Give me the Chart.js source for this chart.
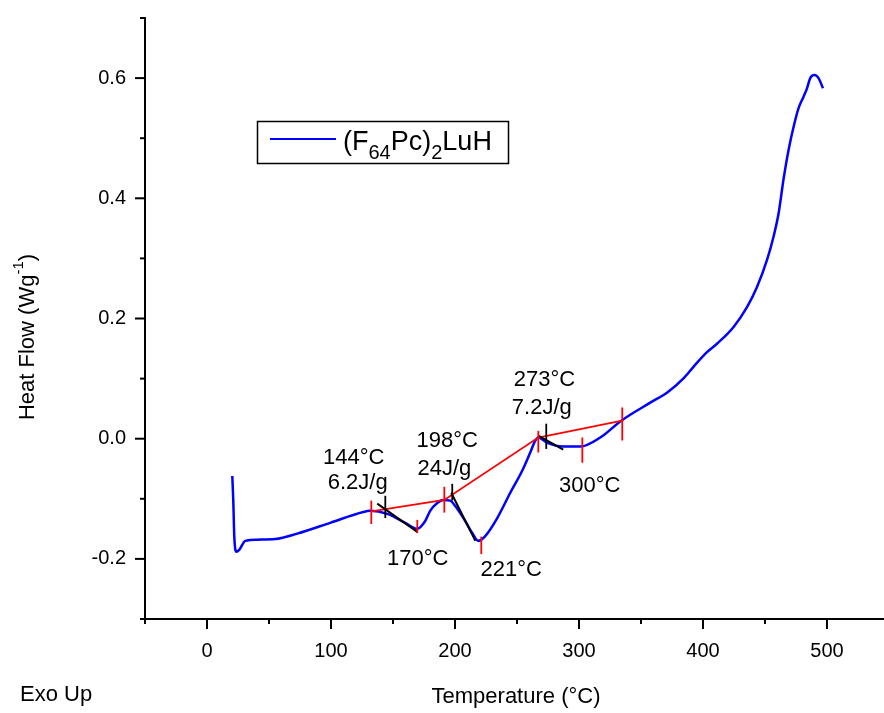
<!DOCTYPE html>
<html>
<head>
<meta charset="utf-8">
<script src="https://cdn.jsdelivr.net/npm/chart.js@4/dist/chart.umd.min.js"></script>
<style>
  body { margin: 0; background: #fff; }
  #wrap { width: 884px; height: 713px; position: relative; }
</style>
</head>
<body>
<div id="wrap"><canvas id="dscChart"></canvas></div>
<script>
// DSC trace, temperature in degC, heat flow in W/g
const temps = [20.4, 21.2, 22.0, 23.6, 26.0, 30.9, 40.6, 55.1, 72.8, 99.4, 126, 131.7, 145.4, 159.9, 169.6,
    176, 180, 185.7, 190.6, 196.2, 200.2, 208.3, 213.9, 218.8, 224.4, 234.1, 244.6, 254.3, 260.7, 264.8,
    267.2, 274.4, 287.3, 301, 317.2, 334.1, 357.5, 371.2, 384.1, 392.5, 403.2, 411.3, 424.7, 435.5,
    443.5, 451.6, 456.9, 461, 465, 469, 473.1, 477.1, 481.1, 483.9, 486.5, 489.8, 493.2, 496.8]
const heatFlow = [-0.062, -0.103, -0.162, -0.188, -0.185, -0.170, -0.168, -0.167, -0.158, -0.140, -0.122, -0.120, -0.125, -0.140, -0.150,
    -0.137, -0.120, -0.107, -0.102, -0.103, -0.112, -0.137, -0.157, -0.170, -0.162, -0.132, -0.090, -0.053, -0.023, -0.003,
    0.002, -0.007, -0.013, -0.013, 0.002, 0.030, 0.060, 0.077, 0.100, 0.120, 0.144, 0.158, 0.186, 0.219,
    0.252, 0.297, 0.336, 0.375, 0.432, 0.480, 0.519, 0.550, 0.569, 0.583, 0.600, 0.605, 0.600, 0.583]

// integration baseline (red)
const baseT = [132.5, 191.4, 267.2, 334.9]
const baseY = [-0.121, -0.102, 0.002, 0.030]

// onset tangents (black), each [t1, y1, t2, y2]
const tangents = [
    [137.3, -0.108, 169.6, -0.155],
    [197.0, -0.090, 216.4, -0.170],
    [267.2, 0.005, 287.3, -0.018]
]

// short vertical marks [t, yLow, yHigh]
const redMarks = [
    [132.5, -0.142, -0.103], [169.6, -0.157, -0.135], [191.4, -0.123, -0.080], [221.2, -0.192, -0.163],
    [267.2, -0.023, 0.013], [302.7, -0.040, 0.002], [334.9, -0.003, 0.052]
]
const blackMarks = [[143.8, -0.132, -0.095], [197.8, -0.103, -0.075], [273.6, -0.017, 0.025]]

// peak labels [text, t, y]
const peakLabels = [
    ['144°C', 118.4, -0.032], ['6.2J/g', 121.5, -0.073], ['170°C', 170, -0.200],
    ['198°C', 193.8, -0.003], ['24J/g', 191.5, -0.050], ['221°C', 245.4, -0.218],
    ['273°C', 272.2, 0.097], ['7.2J/g', 270, 0.052], ['300°C', 308.7, -0.078]
]

const xTicks = [-50, 0, 50, 100, 150, 200, 250, 300, 350, 400, 450, 500]
const yTicks = [-0.3, -0.2, -0.1, 0.0, 0.1, 0.2, 0.3, 0.4, 0.5, 0.6, 0.7]

const FONT = "'Liberation Sans', Arial, sans-serif"

function toPoints(xs, ys) {
    let pts = []
    for (let i = 0; i < xs.length; i++) pts.push({ x: xs[i], y: ys[i] })
    return pts
}

// parts: [text, 'n' | 'sub' | 'sup'], sub/sup drawn smaller and shifted
function drawSubText(ctx, parts, x, y, size, small, shift) {
    let cx = x
    parts.forEach(([txt, kind]) => {
        let s = kind === 'n' ? size : small
        let dy = kind === 'sub' ? shift : kind === 'sup' ? -shift : 0
        ctx.font = `${s}px ${FONT}`
        ctx.fillText(txt, cx, y + dy)
        cx += ctx.measureText(txt).width
    })
    return cx - x
}

function measureSubText(ctx, parts, size, small) {
    let w = 0
    parts.forEach(([txt, kind]) => {
        ctx.font = `${kind === 'n' ? size : small}px ${FONT}`
        w += ctx.measureText(txt).width
    })
    return w
}

const decorations = {
    id: 'decorations',
    afterDatasetsDraw(chart) {
        const { ctx, chartArea, scales: { x, y } } = chart
        ctx.save()
        ctx.lineCap = 'butt'

        // vertical marks
        ctx.lineWidth = 1.8
        ctx.strokeStyle = '#ff0000'
        redMarks.forEach(m => {
            ctx.beginPath()
            ctx.moveTo(x.getPixelForValue(m[0]), y.getPixelForValue(m[1]))
            ctx.lineTo(x.getPixelForValue(m[0]), y.getPixelForValue(m[2]))
            ctx.stroke()
        })
        ctx.strokeStyle = '#000'
        blackMarks.forEach(m => {
            ctx.beginPath()
            ctx.moveTo(x.getPixelForValue(m[0]), y.getPixelForValue(m[1]))
            ctx.lineTo(x.getPixelForValue(m[0]), y.getPixelForValue(m[2]))
            ctx.stroke()
        })

        // peak labels
        ctx.fillStyle = '#000'
        ctx.font = `22px ${FONT}`
        ctx.textAlign = 'center'
        ctx.textBaseline = 'middle'
        peakLabels.forEach(l => {
            ctx.fillText(l[0], x.getPixelForValue(l[1]), y.getPixelForValue(l[2]))
        })

        // axis tick marks, major and minor
        ctx.lineWidth = 2
        ctx.strokeStyle = '#000'
        xTicks.forEach(v => {
            let px = x.getPixelForValue(v)
            let len = v % 100 === 0 ? 10 : 5
            ctx.beginPath()
            ctx.moveTo(px, chartArea.bottom)
            ctx.lineTo(px, chartArea.bottom + len)
            ctx.stroke()
        })
        yTicks.forEach(v => {
            let py = y.getPixelForValue(v)
            let len = Math.round(v * 10) % 2 === 0 ? 10 : 5
            ctx.beginPath()
            ctx.moveTo(chartArea.left, py)
            ctx.lineTo(chartArea.left - len, py)
            ctx.stroke()
        })

        // legend box
        let lx = chartArea.left + 112, ly = chartArea.top + 103
        ctx.lineWidth = 1.5
        ctx.strokeRect(lx + 0.5, ly + 0.5, 251, 42)
        ctx.strokeStyle = '#0000ff'
        ctx.lineWidth = 2
        ctx.beginPath()
        ctx.moveTo(lx + 13, ly + 18)
        ctx.lineTo(lx + 79, ly + 18)
        ctx.stroke()
        ctx.textAlign = 'left'
        ctx.textBaseline = 'alphabetic'
        drawSubText(ctx, [['(F', 'n'], ['64', 'sub'], ['Pc)', 'n'], ['2', 'sub'], ['LuH', 'n']], lx + 86, ly + 29, 27, 20, 9)

        // axis titles
        ctx.textBaseline = 'middle'
        ctx.textAlign = 'center'
        ctx.font = `22px ${FONT}`
        ctx.fillText('Temperature (°C)', 516, 697)
        ctx.textAlign = 'left'
        ctx.fillText('Exo Up', 20, 695)

        const yTitle = [['Heat Flow (Wg', 'n'], ['-1', 'sup'], [')', 'n']]
        ctx.translate(28, 337)
        ctx.rotate(-Math.PI / 2)
        let w = measureSubText(ctx, yTitle, 22, 15)
        drawSubText(ctx, yTitle, -w / 2, 0, 22, 15, 9)
        ctx.restore()
    }
}

new Chart(document.getElementById('dscChart'), {
    type: 'line',
    data: {
        datasets: [
            {
                label: '(F64Pc)2LuH',
                data: toPoints(temps, heatFlow),
                borderColor: '#0000ff',
                borderWidth: 2.5,
                pointRadius: 0,
                cubicInterpolationMode: 'monotone',
                order: 2
            },
            {
                data: toPoints(baseT, baseY),
                borderColor: '#ff0000',
                borderWidth: 1.8,
                pointRadius: 0,
                tension: 0,
                order: 1
            },
            ...tangents.map(t => ({
                data: [{ x: t[0], y: t[1] }, { x: t[2], y: t[3] }],
                borderColor: '#000000',
                borderWidth: 2,
                pointRadius: 0,
                tension: 0,
                order: 0
            }))
        ]
    },
    options: {
        responsive: true,
        maintainAspectRatio: false,
        animation: false,
        layout: { padding: { top: 18, left: 0, right: 0, bottom: 0 } },
        plugins: {
            legend: { display: false },
            tooltip: { enabled: false }
        },
        scales: {
            x: {
                type: 'linear',
                min: -50,
                max: 546,
                afterBuildTicks: scale => { scale.ticks = xTicks.map(v => ({ value: v })) },
                afterFit: scale => {
                    scale.height = 94
                    scale.paddingLeft = 0
                    scale.paddingRight = 0
                },
                grid: { display: true, drawOnChartArea: false, drawTicks: false },
                border: { display: true, color: '#000', width: 2 },
                ticks: {
                    padding: 20,
                    color: '#000',
                    font: { family: FONT, size: 20 },
                    maxRotation: 0,
                    autoSkip: false,
                    callback: v => (v % 100 === 0 ? String(v) : '')
                }
            },
            y: {
                type: 'linear',
                min: -0.3,
                max: 0.7,
                afterBuildTicks: scale => { scale.ticks = yTicks.map(v => ({ value: v })) },
                afterFit: scale => {
                    scale.width = 145
                    scale.paddingTop = 0
                    scale.paddingBottom = 0
                },
                grid: { display: true, drawOnChartArea: false, drawTicks: false },
                border: { display: true, color: '#000', width: 2 },
                ticks: {
                    padding: 19,
                    color: '#000',
                    font: { family: FONT, size: 20 },
                    autoSkip: false,
                    callback: v => (Math.round(v * 10) % 2 === 0 ? v.toFixed(1) : '')
                }
            }
        }
    },
    plugins: [decorations]
})
</script>
</body>
</html>
